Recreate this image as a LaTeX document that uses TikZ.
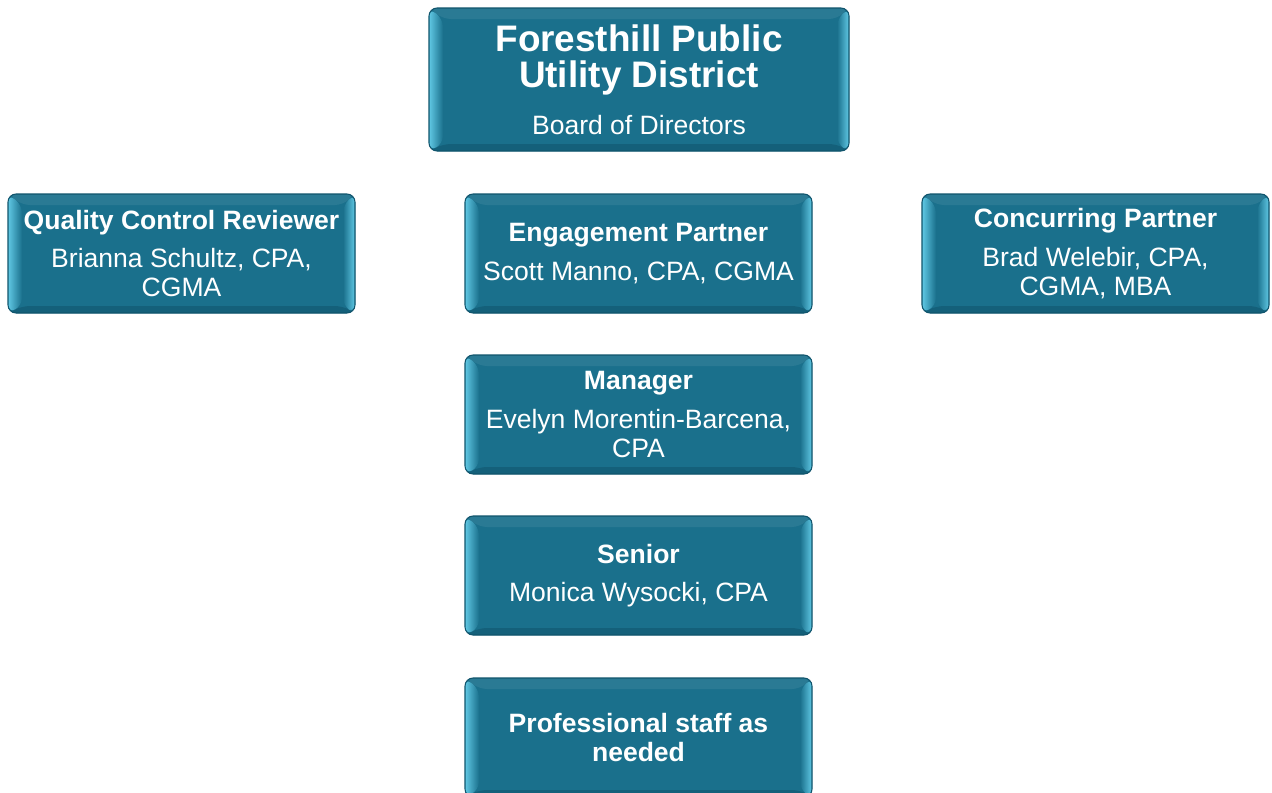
\documentclass[tikz,border=0pt]{standalone}
\usepackage{fontspec}
\setmainfont{Liberation Sans}
\usetikzlibrary{calc}

\definecolor{boxface}{RGB}{26,112,140}
\definecolor{boxedge}{RGB}{16,84,108}
\definecolor{bevlight}{RGB}{96,200,228}
\definecolor{bevdark}{RGB}{20,96,122}

\newcommand{\bighead}[1]{{\fontsize{21}{21}\selectfont\bfseries #1}}

\tikzset{
  orgbox/.style={draw=boxedge, line width=0.6pt, fill=boxface, rounded corners=0.16cm,
    text=white, align=center, inner sep=0pt,
    font=\fontsize{15.1}{16.5}\selectfont,
    minimum width=6.94cm, minimum height=2.38cm,
    path picture={
      \coordinate (bnw) at (path picture bounding box.north west);
      \coordinate (bne) at (path picture bounding box.north east);
      \coordinate (bsw) at (path picture bounding box.south west);
      \coordinate (bse) at (path picture bounding box.south east);
      % top and bottom bevel
      \fill[boxface!93!white] (bnw) -- (bne) -- ($(bne)+(-0.24,-0.22)$) -- ($(bnw)+(0.28,-0.22)$) -- cycle;
      \fill[bevdark] (bsw) -- (bse) -- ($(bse)+(-0.24,0.14)$) -- ($(bsw)+(0.28,0.14)$) -- cycle;
      % side bevels
      \shade[left color=bevlight, right color=boxface] (bnw) -- ($(bnw)+(0.28,-0.22)$) -- ($(bsw)+(0.28,0.14)$) -- (bsw) -- cycle;
      \shade[left color=boxface, right color=bevlight] (bne) -- ($(bne)+(-0.24,-0.22)$) -- ($(bse)+(-0.24,0.14)$) -- (bse) -- cycle;
    }},
  topbox/.style={orgbox, minimum width=8.4cm, minimum height=2.86cm}
}

\begin{document}
\begin{tikzpicture}
\useasboundingbox (0,0) rectangle (25.44,-15.84);

\node[topbox] (board) at (12.78,-1.59)
  {\bighead{Foresthill Public}\\[4.4pt]\bighead{Utility District}\\[10pt]Board of Directors};

\node[orgbox] (qcreview) at (3.63,-5.07)
  {\textbf{Quality Control Reviewer}\\[5.5pt]Brianna Schultz, CPA,\\CGMA};
\node[orgbox] (engage) at (12.77,-5.07)
  {\textbf{Engagement Partner}\\[5.5pt]Scott Manno, CPA, CGMA};
\node[orgbox] (concur) at (21.91,-5.07)
  {\textbf{Concurring Partner}\\[5.5pt]Brad Welebir, CPA,\\CGMA, MBA};

\node[orgbox] (manager) at (12.77,-8.29)
  {\textbf{Manager}\\[5.5pt]Evelyn Morentin-Barcena,\\CPA};
\node[orgbox] (senior) at (12.77,-11.51)
  {\textbf{Senior}\\[5.5pt]Monica Wysocki, CPA};
\node[orgbox] (staff) at (12.77,-14.75)
  {\textbf{Professional staff as}\\\textbf{needed}};
\end{tikzpicture}
\end{document}
